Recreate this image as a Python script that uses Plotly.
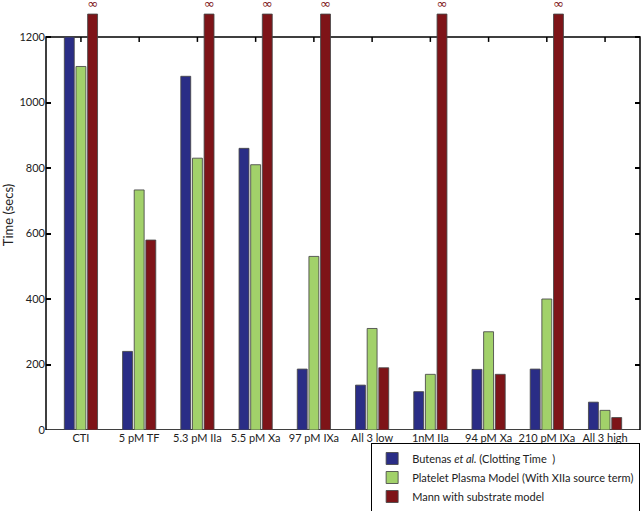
import plotly.graph_objects as go

# Clotting times per experiment (secs); red bars that never clot are drawn
# past the axis top and marked with an infinity sign.
categories = ["CTI", "5 pM TF", "5.3 pM IIa", "5.5 pM Xa", "97 pM IXa",
              "All 3 low", "1nM IIa", "94 pM Xa", "210 pM IXa", "All 3 high"]
butenas = [1200, 240, 1080, 860, 186, 137, 117, 185, 186, 85]
platelet = [1110, 733, 830, 810, 530, 310, 170, 300, 400, 60]
mann = [1270, 580, 1270, 1270, 1270, 190, 1270, 170, 1270, 38]
mann_infinite = [True, False, True, True, True, False, True, False, True, False]
y_ticks = [0, 200, 400, 600, 800, 1000, 1200]

names = ["Butenas <i>et al.</i> (Clotting Time  )",
         "Platelet Plasma Model (With XIIa source term)",
         "Mann with substrate model"]
colors = ["#2a2d86", "#a2d16a", "#7e1418"]

# the frame stops at 1200; the value axis runs higher so the "infinite"
# bars can poke out above the frame
Y_MAX = 1200
FRAME_TOP = 393 / 430          # frame height / plot height (pixels)
bar_top = Y_MAX / FRAME_TOP
TICK_LEN = 15                  # top tick length, in data units (~5px)

fig = go.Figure()
for name, vals, col in zip(names, [butenas, platelet, mann], colors):
    fig.add_bar(x=categories, y=vals, name=name, marker_color=col,
                marker_line=dict(color="rgba(70,70,70,0.85)", width=1))

fig.data[2].update(
    text=["∞" if inf else "" for inf in mann_infinite],
    textposition="outside",
    textfont=dict(color="#7e1418", size=13, family="DejaVu Sans"),
    constraintext="none",
    cliponaxis=False,
)

# top tick marks hanging from the frame at each category
fig.add_scatter(x=categories, y=[Y_MAX] * len(categories), mode="markers",
                marker=dict(size=1, color="rgba(0,0,0,0)"),
                error_y=dict(type="data", symmetric=False,
                             array=[0] * len(categories),
                             arrayminus=[TICK_LEN] * len(categories),
                             width=0, thickness=1.5, color="black"),
                showlegend=False, hoverinfo="skip")

fig.add_shape(type="rect", xref="paper", yref="y", x0=0, x1=1, y0=0, y1=Y_MAX,
              line=dict(color="black", width=1.5), layer="below")

fig.update_layout(
    width=644, height=511,
    plot_bgcolor="white", paper_bgcolor="white",
    font=dict(family="Lato", size=11, color="#222"),
    margin=dict(l=46, r=4, t=0, b=81, autoexpand=False),
    barmode="group",
    bargap=0.4,
    bargroupgap=0.15,
    showlegend=True,
    legend=dict(xref="container", yref="container",
                x=0.994, xanchor="right", y=1 - 443 / 511, yanchor="top",
                bordercolor="black", borderwidth=1, bgcolor="white",
                font=dict(size=11), tracegroupgap=0),
    xaxis=dict(range=[-0.6, 9.6], showgrid=False, showline=False,
               ticks="", tickangle=0, automargin=False, fixedrange=True),
    yaxis=dict(range=[0, bar_top], tickvals=y_ticks, ticks="inside",
               ticklen=5, tickwidth=1.5, tickcolor="black", mirror="ticks",
               showline=False, showgrid=False, zeroline=False,
               automargin=False, fixedrange=True,
               title=dict(text="Time (secs)", standoff=8)),
)

fig.write_html("out.html", config={"displayModeBar": False},
               post_script="document.body.style.margin='0';")
